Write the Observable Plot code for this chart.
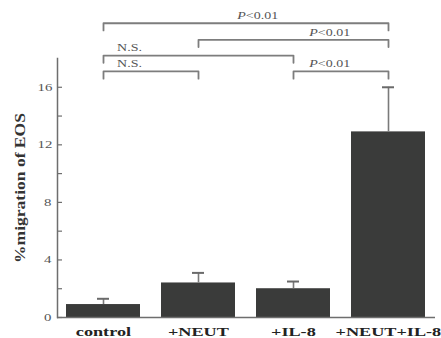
<!DOCTYPE html>
<html><head><meta charset="utf-8">
<script src="https://cdn.jsdelivr.net/npm/d3@7"></script>
<script src="https://cdn.jsdelivr.net/npm/@observablehq/plot@0.6"></script>
<style>body{margin:0;background:#fff}</style>
</head><body><div id="chart"></div>
<script>
const groups = ["control", "+NEUT", "+IL-8", "+NEUT+IL-8"];
const means = [0.9, 2.4, 2.0, 12.9];
const errors = [0.4, 0.7, 0.5, 3.1];
const yTicks = [0, 4, 8, 12, 16];
const yMinorTicks = [0, 2, 4, 6, 8, 10, 12, 14, 16];
const yLabel = "%migration of EOS";
const brackets = [
  {from: "control", to: "+NEUT+IL-8", level: 20.45, label: "P<0.01"},
  {from: "+NEUT", to: "+NEUT+IL-8", level: 19.3, label: "P<0.01"},
  {from: "control", to: "+IL-8", level: 18.2, label: "N.S."},
  {from: "control", to: "+NEUT", level: 17.1, label: "N.S."},
  {from: "+IL-8", to: "+NEUT+IL-8", level: 17.1, label: "P<0.01"}
];

const data = groups.map((g, i) => ({group: g, mean: means[i], err: errors[i]}));
const drop = 0.5;
const bracketPts = brackets.flatMap((b, i) => [
  {id: i, x: b.from, y: b.level - drop},
  {id: i, x: b.from, y: b.level},
  {id: i, x: b.to, y: b.level},
  {id: i, x: b.to, y: b.level - drop}
]);
// label anchoring (style): category + pixel shift
const labelPlace = [
  {at: "+IL-8", dx: -36},
  {at: "+NEUT+IL-8", dx: -59},
  {at: "control", dx: 26},
  {at: "control", dx: 26},
  {at: "+NEUT+IL-8", dx: -59}
];

const gray = "#6e6e6e";
const plot = Plot.plot({
  width: 441,
  height: 338,
  marginLeft: 57,
  marginRight: 6,
  marginTop: 58,
  marginBottom: 21,
  style: {fontFamily: "'Liberation Serif', 'Times New Roman', serif", background: "#fff"},
  x: {domain: groups, paddingInner: 0.22, paddingOuter: 0.095},
  y: {domain: [0, 18]},
  marks: [
    Plot.frame({anchor: "left", stroke: gray, strokeWidth: 1.5}),
    Plot.axisY({ticks: yTicks, tickSize: 0, tickPadding: 7, label: null, fontSize: 11, color: "#555"}),
    Plot.axisY({ticks: yMinorTicks, tickSize: 5, dx: 5, tickFormat: () => "", label: null, stroke: gray, strokeWidth: 1.2}),
    Plot.axisX({tickSize: 0, tickPadding: 9, label: null, fontSize: 13, fontWeight: "bold", color: "#222"}),
    Plot.text([yLabel], {frameAnchor: "left", textAnchor: "middle", dx: -37, rotate: -90, fontSize: 15, fontWeight: "bold", fill: "#333"}),
    Plot.barY(data, {x: "group", y: "mean", fill: "#3a3b3a"}),
    Plot.ruleX(data, {x: "group", y1: "mean", y2: d => d.mean + d.err, stroke: "#7a7a7a", strokeWidth: 1.6}),
    Plot.tickY(data, {x: "group", y: d => d.mean + d.err, inset: 31, stroke: "#6a6a6a", strokeWidth: 2}),
    Plot.ruleY([0], {stroke: gray, strokeWidth: 1.5}),
    Plot.line(bracketPts, {x: "x", y: "y", z: "id", stroke: "#7d7d7d", strokeWidth: 1.8}),
    ...brackets.map((b, i) => Plot.text([b], {x: () => labelPlace[i].at, y: "level", text: "label", dx: labelPlace[i].dx, dy: -7.5, fontSize: 10, fill: "#555"}))
  ]
});
document.getElementById("chart").appendChild(plot);

// italic P in significance labels
d3.select(plot).selectAll("text").each(function() {
  const t = this.textContent;
  if (t.startsWith("P<")) {
    this.textContent = "";
    d3.select(this).append("tspan").attr("font-style", "italic").text("P");
    d3.select(this).append("tspan").text(t.slice(1));
  }
});
// horizontal stretch of the scanned figure's lettering (about each label's own centre)
d3.select(plot).selectAll("text").each(function() {
  if (!this.textContent) return;
  const bb = this.getBBox();
  if (!bb.width) return;
  const cx = bb.x + bb.width / 2;
  const s = this.textContent === yLabel ? 150 / bb.width
    : /^\d+$/.test(this.textContent) ? 1.35 : 1.4;
  const old = this.getAttribute("transform") || "";
  this.setAttribute("transform", `${old} translate(${cx},0) scale(${s},1) translate(${-cx},0)`);
});
</script>
</body></html>
